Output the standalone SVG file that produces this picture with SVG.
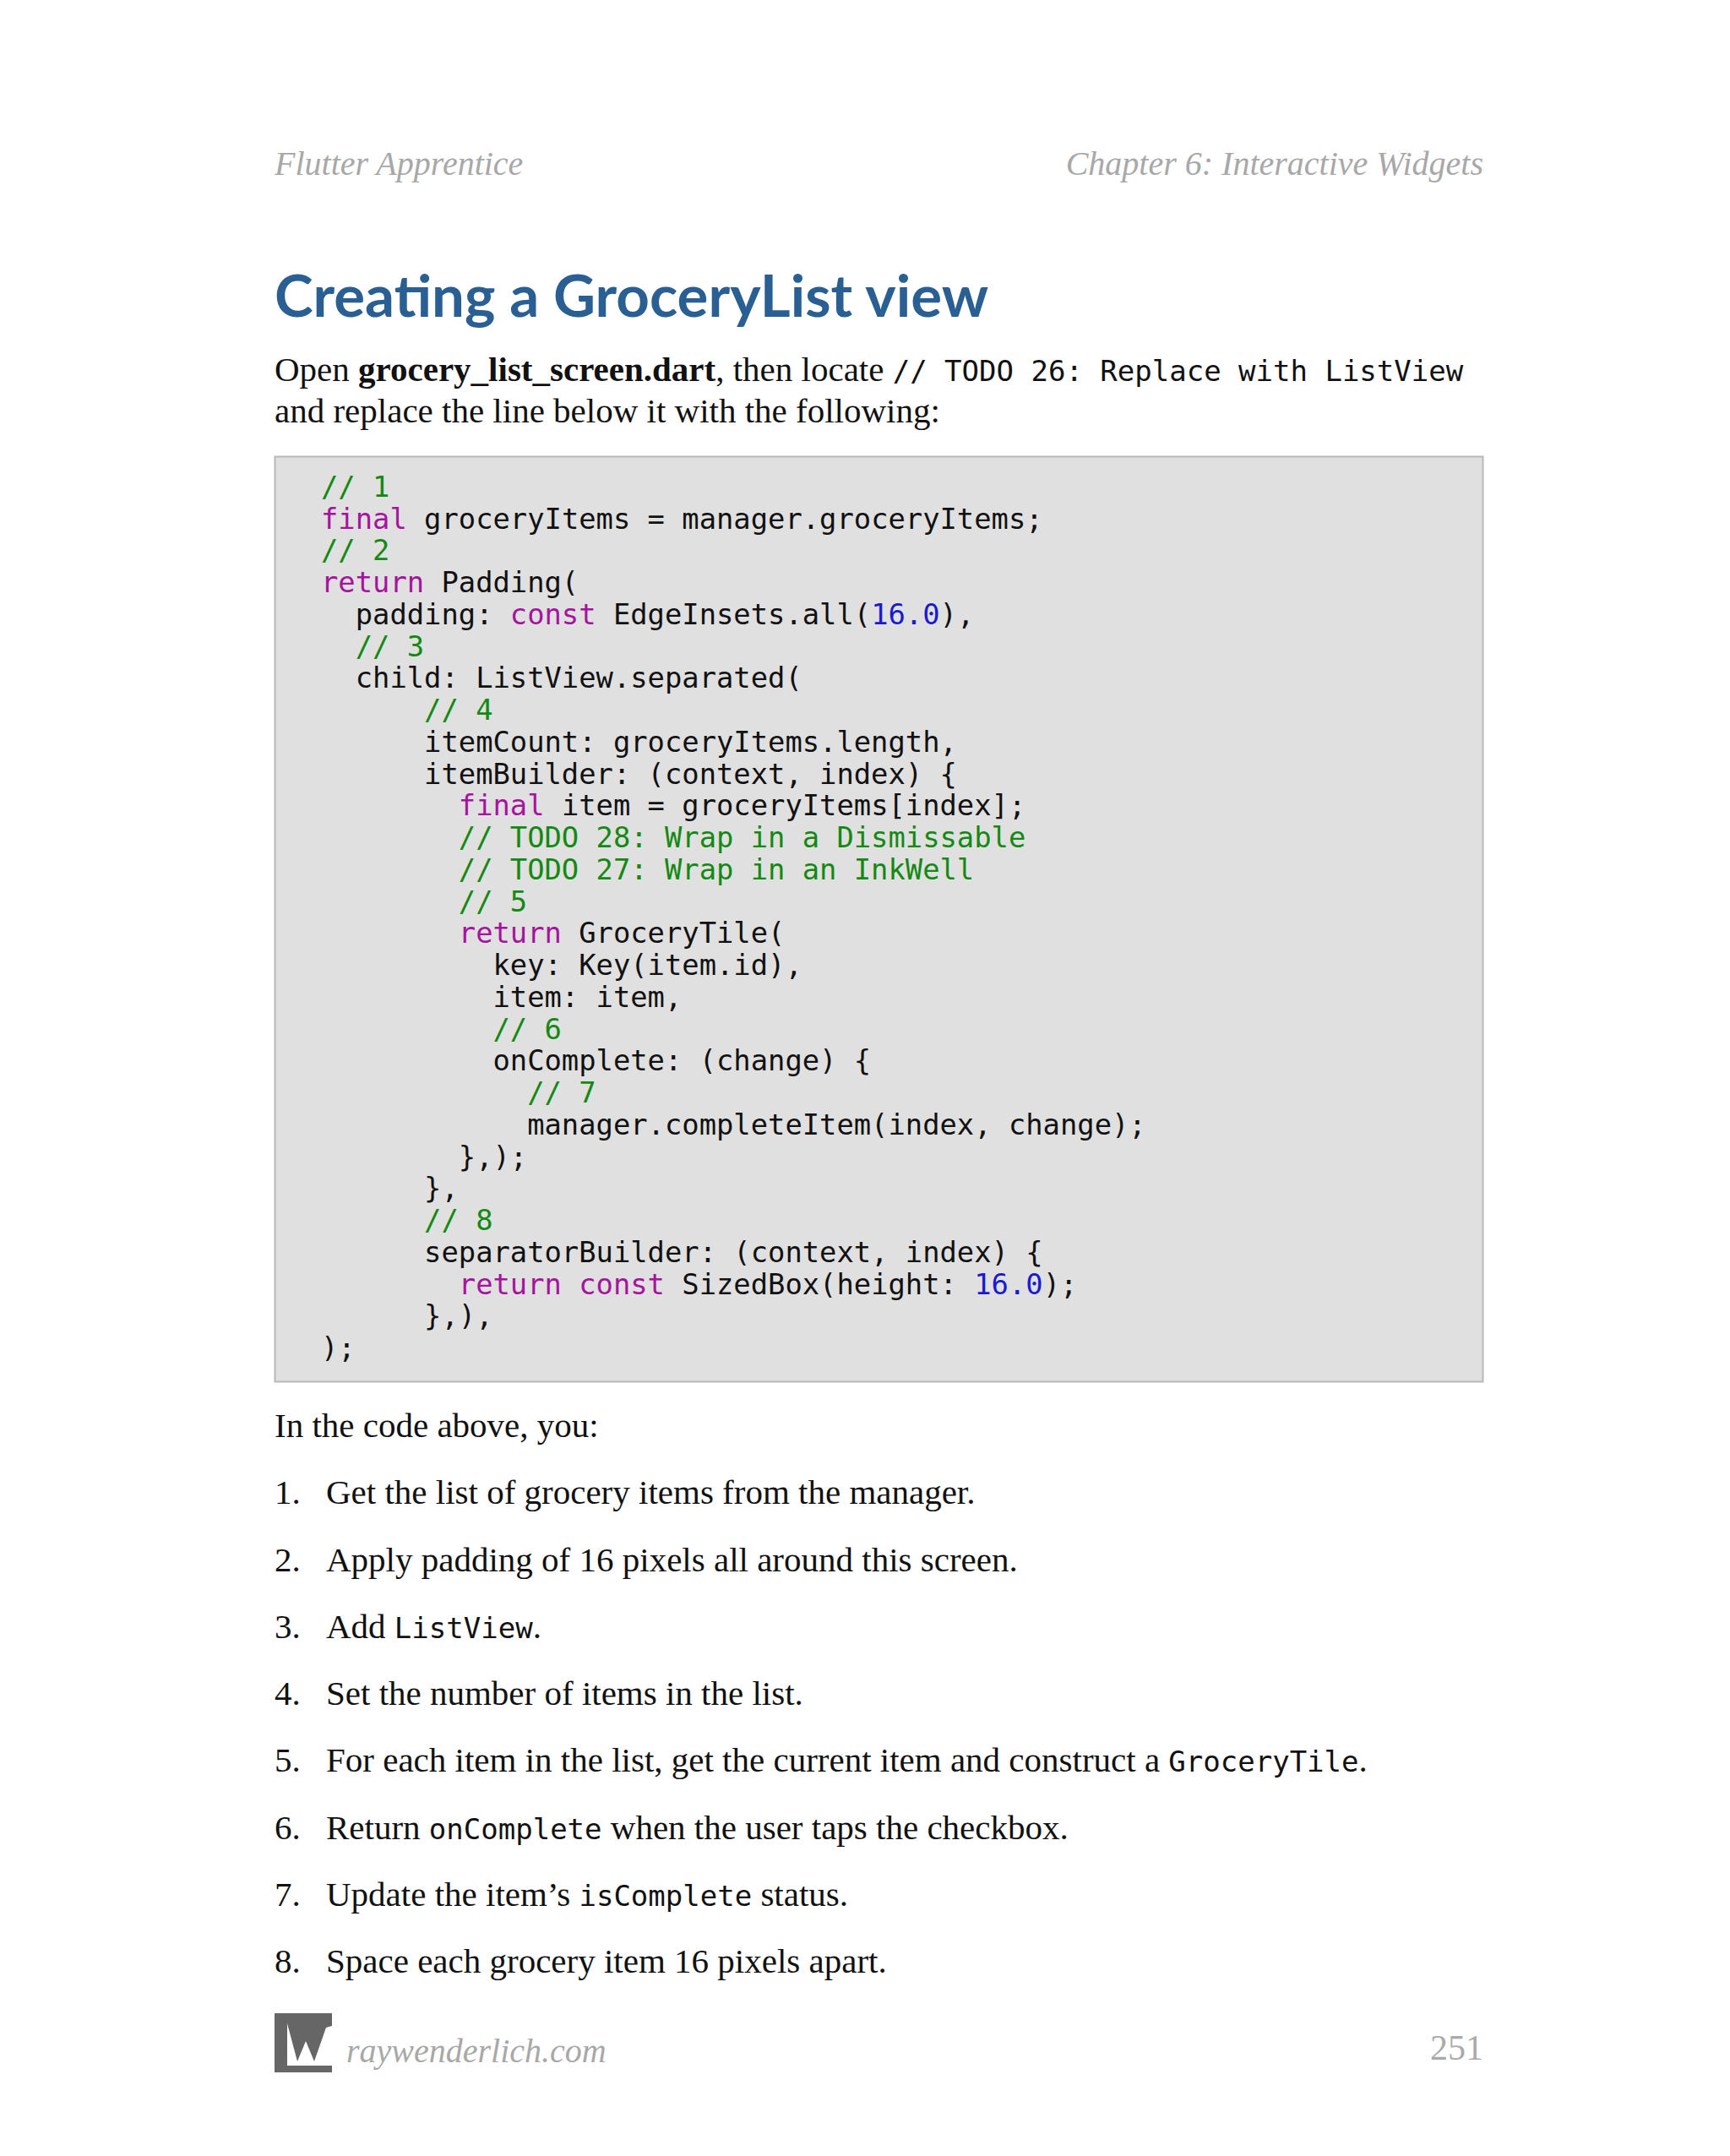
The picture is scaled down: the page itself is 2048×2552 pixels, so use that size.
<svg xmlns="http://www.w3.org/2000/svg" width="2048" height="2552" viewBox="0 0 2048 2552">
<style>
.hd{font-family:"Liberation Serif",serif;font-style:italic;font-size:40px;fill:#a8a8a8}
.body{font-family:"Liberation Serif",serif;font-size:41px;fill:#111}
.mono{font-family:"DejaVu Sans Mono",monospace}
.code{font-family:"DejaVu Sans Mono",monospace;font-size:33.8px;fill:#111;white-space:pre}
.c{fill:#128a12}.k{fill:#a6139f}.n{fill:#1a1ad0}
</style>
<rect width="2048" height="2552" fill="#fff"/>
<g id="header">
<text class="hd" x="325" y="207">Flutter Apprentice</text>
<text class="hd" x="1756" y="207" text-anchor="end">Chapter 6: Interactive Widgets</text>
</g>
<g id="title">
<text x="325" y="375" font-family="Lato,sans-serif" font-weight="bold" font-size="69" fill="#2a5f94">Creating a GroceryList view</text>
</g>
<g id="intro" class="body">
<text x="325" y="451">Open <tspan font-weight="bold">grocery_list_screen.dart</tspan>, then locate <tspan class="mono" font-size="34">// TODO 26: Replace with ListView</tspan></text>
<text x="325" y="500">and replace the line below it with the following:</text>
</g>
<g id="codebox">
<rect x="325.5" y="540.5" width="1430" height="1095" fill="#e0e0e0" stroke="#b8b8b8" stroke-width="2"/>
<text class="code" xml:space="preserve">
<tspan x="380" y="588" class="c">// 1</tspan>
<tspan x="380" y="626"><tspan class="k">final</tspan> groceryItems = manager.groceryItems;</tspan>
<tspan x="380" y="663" class="c">// 2</tspan>
<tspan x="380" y="701"><tspan class="k">return</tspan> Padding(</tspan>
<tspan x="380" y="739">  padding: <tspan class="k">const</tspan> EdgeInsets.all(<tspan class="n">16.0</tspan>),</tspan>
<tspan x="380" y="777" class="c">  // 3</tspan>
<tspan x="380" y="814">  child: ListView.separated(</tspan>
<tspan x="380" y="852" class="c">      // 4</tspan>
<tspan x="380" y="890">      itemCount: groceryItems.length,</tspan>
<tspan x="380" y="928">      itemBuilder: (context, index) {</tspan>
<tspan x="380" y="965">        <tspan class="k">final</tspan> item = groceryItems[index];</tspan>
<tspan x="380" y="1003" class="c">        // TODO 28: Wrap in a Dismissable</tspan>
<tspan x="380" y="1041" class="c">        // TODO 27: Wrap in an InkWell</tspan>
<tspan x="380" y="1079" class="c">        // 5</tspan>
<tspan x="380" y="1116">        <tspan class="k">return</tspan> GroceryTile(</tspan>
<tspan x="380" y="1154">          key: Key(item.id),</tspan>
<tspan x="380" y="1192">          item: item,</tspan>
<tspan x="380" y="1230" class="c">          // 6</tspan>
<tspan x="380" y="1267">          onComplete: (change) {</tspan>
<tspan x="380" y="1305" class="c">            // 7</tspan>
<tspan x="380" y="1343">            manager.completeItem(index, change);</tspan>
<tspan x="380" y="1381">        },);</tspan>
<tspan x="380" y="1418">      },</tspan>
<tspan x="380" y="1456" class="c">      // 8</tspan>
<tspan x="380" y="1494">      separatorBuilder: (context, index) {</tspan>
<tspan x="380" y="1532">        <tspan class="k">return</tspan> <tspan class="k">const</tspan> SizedBox(height: <tspan class="n">16.0</tspan>);</tspan>
<tspan x="380" y="1569">      },),</tspan>
<tspan x="380" y="1607">);</tspan>
</text>
</g>
<g id="list" class="body">
<text x="325" y="1701">In the code above, you:</text>
<text x="325" y="1780">1.</text><text x="386" y="1780">Get the list of grocery items from the manager.</text>
<text x="325" y="1860">2.</text><text x="386" y="1860">Apply padding of 16 pixels all around this screen.</text>
<text x="325" y="1939">3.</text><text x="386" y="1939">Add <tspan class="mono" font-size="34">ListView</tspan>.</text>
<text x="325" y="2018">4.</text><text x="386" y="2018">Set the number of items in the list.</text>
<text x="325" y="2097">5.</text><text x="386" y="2097">For each item in the list, get the current item and construct a <tspan class="mono" font-size="34">GroceryTile</tspan>.</text>
<text x="325" y="2177">6.</text><text x="386" y="2177">Return <tspan class="mono" font-size="34">onComplete</tspan> when the user taps the checkbox.</text>
<text x="325" y="2256">7.</text><text x="386" y="2256">Update the item’s <tspan class="mono" font-size="34">isComplete</tspan> status.</text>
<text x="325" y="2335">8.</text><text x="386" y="2335">Space each grocery item 16 pixels apart.</text>
</g>
<g id="footer">
<rect x="325" y="2383" width="68" height="70" fill="#666"/>
<polygon points="340,2395 352,2440 362,2416 372,2440 386,2400 393,2398 393,2445 340,2445" fill="#fff"/>
<rect x="325" y="2445" width="68" height="8" fill="#666"/>
<text class="hd" x="410" y="2441" font-size="40" fill="#bbb">raywenderlich.com</text>
<text x="1756" y="2438" text-anchor="end" font-family="Liberation Serif,serif" font-size="42" fill="#aaa">251</text>
</g>
</svg>
